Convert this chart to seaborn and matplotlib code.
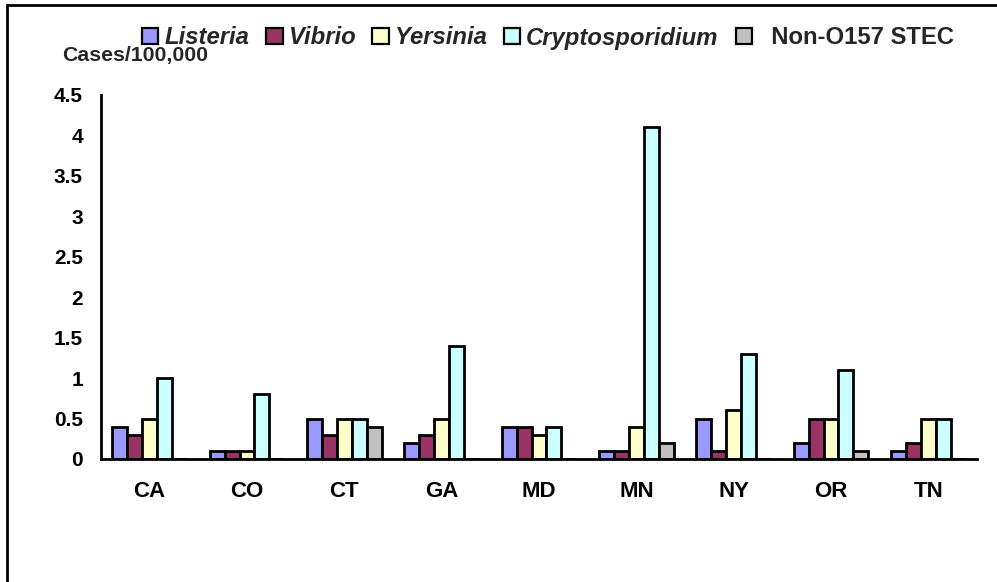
import matplotlib
matplotlib.use("Agg")
import matplotlib.pyplot as plt
import seaborn as sns
import pandas as pd
from matplotlib.lines import Line2D
from matplotlib.patches import Patch

states = ["CA", "CO", "CT", "GA", "MD", "MN", "NY", "OR", "TN"]
pathogens = ["Listeria", "Vibrio", "Yersinia", "Cryptosporidium", "Non-O157 STEC"]
listeria = [0.4, 0.1, 0.5, 0.2, 0.4, 0.1, 0.5, 0.2, 0.1]
vibrio = [0.3, 0.1, 0.3, 0.3, 0.4, 0.1, 0.1, 0.5, 0.2]
yersinia = [0.5, 0.1, 0.5, 0.5, 0.3, 0.4, 0.6, 0.5, 0.5]
crypto = [1.0, 0.8, 0.5, 1.4, 0.4, 4.1, 1.3, 1.1, 0.5]
stec = [0.0, 0.0, 0.4, 0.0, 0.0, 0.2, 0.0, 0.1, 0.0]
colors = ["#9999FF", "#993366", "#FFFFCC", "#CCFFFF", "#C0C0C0"]
yticks = [0, 0.5, 1, 1.5, 2, 2.5, 3, 3.5, 4, 4.5]
ytick_labels = ["0", "0.5", "1", "1.5", "2", "2.5", "3", "3.5", "4", "4.5"]

series = [listeria, vibrio, yersinia, crypto, stec]
rows = []
for p, vals in zip(pathogens, series):
    for s, v in zip(states, vals):
        rows.append({"state": s, "pathogen": p, "value": v})
df = pd.DataFrame(rows)

sns.set_style("white")
plt.rcParams["font.family"] = ["Liberation Sans", "DejaVu Sans"]
plt.rcParams["font.weight"] = "bold"

fig = plt.figure(figsize=(9.97, 5.82), dpi=100)
ax = fig.add_axes([101 / 997, 1 - 459 / 582, (977 - 101) / 997, (459 - 95) / 582])

sns.barplot(data=df, x="state", y="value", hue="pathogen", hue_order=pathogens,
            order=states, palette=colors, edgecolor="black", linewidth=2.0,
            width=0.77, gap=0, ax=ax, legend=False, saturation=1)

ax.set_ylim(0, 4.5)
ax.set_xlim(-0.5, len(states) - 0.5)
ax.set_yticks(yticks)
ax.set_yticklabels(ytick_labels)
ax.set_xlabel("")
ax.set_ylabel("")
for s in ["top", "right"]:
    ax.spines[s].set_visible(False)
for s in ["left", "bottom"]:
    ax.spines[s].set_color("black")
    ax.spines[s].set_linewidth(2.0)
ax.tick_params(axis="y", direction="in", length=7, width=2.0, pad=13,
               labelsize=15, colors="black")
ax.tick_params(axis="x", length=0, pad=16, labelsize=16, colors="black")
for lab in ax.get_xticklabels() + ax.get_yticklabels():
    lab.set_fontweight("bold")

fig.text(62 / 997, 1 - 56 / 582, "Cases/100,000", fontsize=15.3, fontweight="bold",
         ha="left", va="center")

handles = [Patch(facecolor=c, edgecolor="black", linewidth=1.6) for c in colors]
labels = ["Listeria", "Vibrio", "Yersinia", "Cryptosporidium", "  Non-O157 STEC"]
leg = fig.legend(handles, labels, ncol=5, frameon=False, loc="center left",
                 bbox_to_anchor=(142 / 997, 1 - 38 / 582), fontsize=17.2,
                 handlelength=0.68, handleheight=0.68, handletextpad=0.25,
                 columnspacing=0.72, borderpad=0, borderaxespad=0)
for i, t in enumerate(leg.get_texts()):
    t.set_fontweight("bold")
    if i < 4:
        t.set_fontstyle("italic")

fig.add_artist(Line2D([7 / 997, 7 / 997], [0, 1 - 5 / 582], color="black", lw=2))
fig.add_artist(Line2D([7 / 997, 1], [1 - 5 / 582, 1 - 5 / 582], color="black", lw=2))

fig.savefig("out.png", dpi=100)
